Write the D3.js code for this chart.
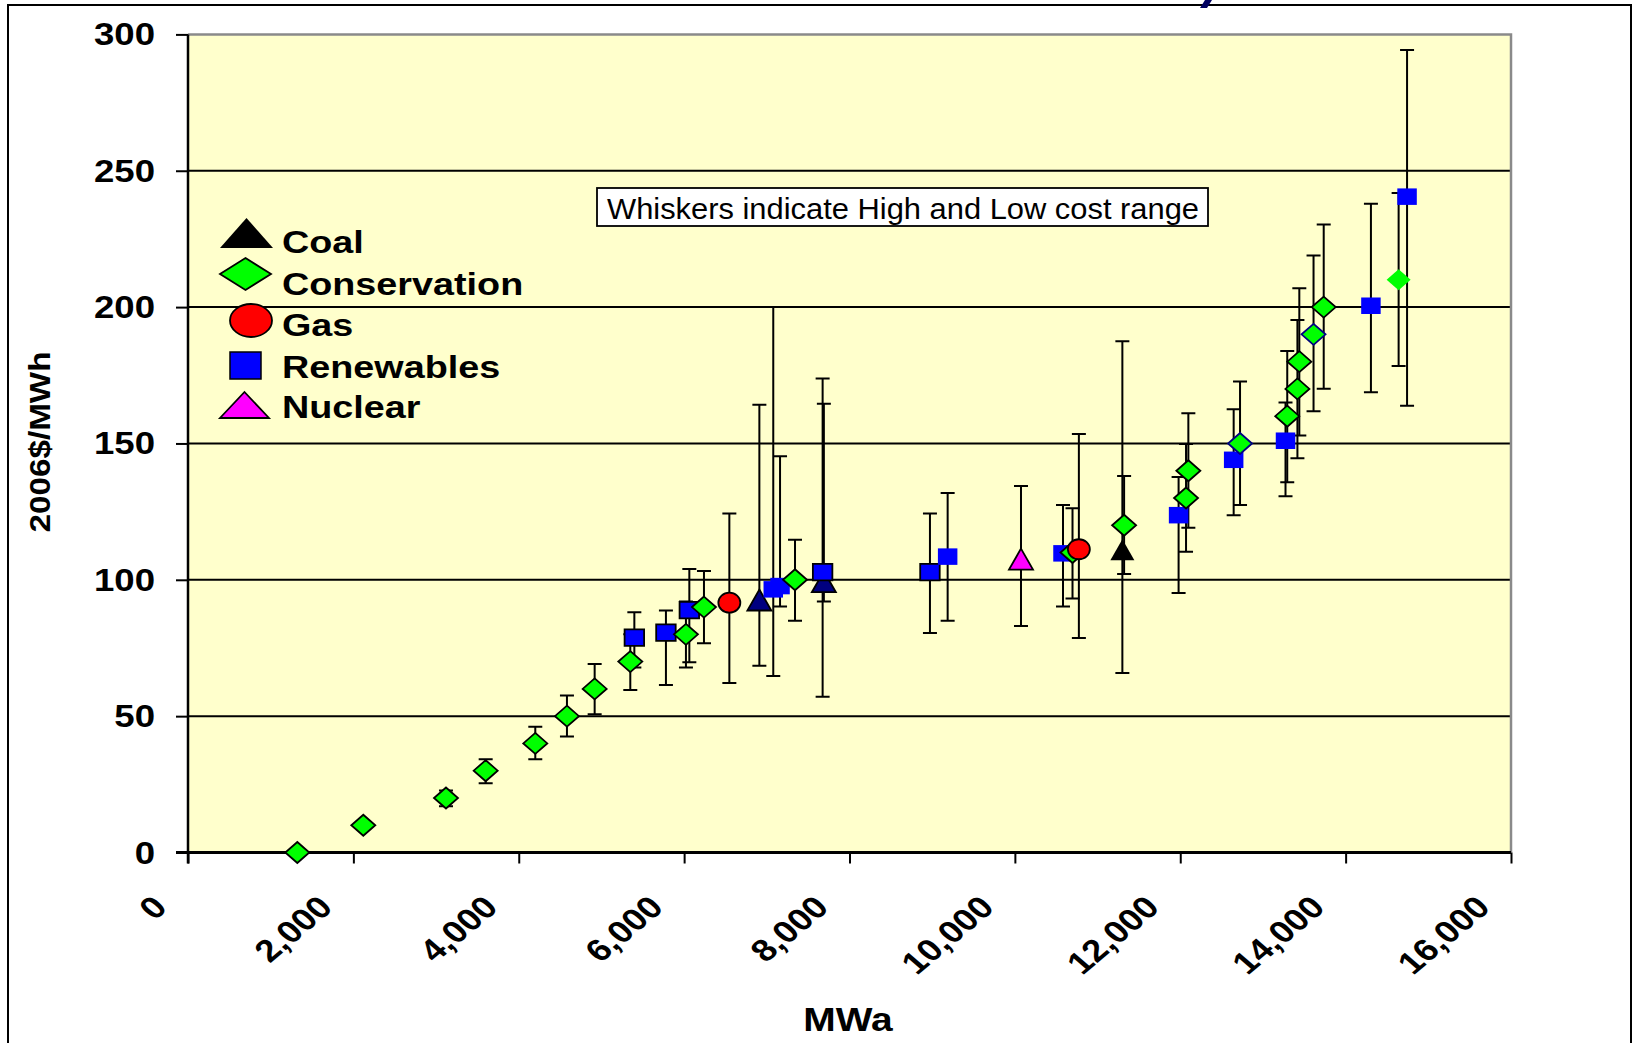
<!DOCTYPE html>
<html><head><meta charset="utf-8">
<script src="https://cdn.jsdelivr.net/npm/d3@7"></script>
<style>html,body{margin:0;padding:0;background:#fff;overflow:hidden}</style>
</head><body>
<svg id="chart" width="1636" height="1043"></svg>
<script>
// ---------------- DATA ----------------
const seriesNames = ["Coal", "Conservation", "Gas", "Renewables", "Nuclear"];
const xTickValues = [0, 2000, 4000, 6000, 8000, 10000, 12000, 14000, 16000];
const yTickValues = [0, 50, 100, 150, 200, 250, 300];
const xTitle = "MWa";
const yTitle = "2006$/MWh";
const noteText = "Whiskers indicate High and Low cost range";

const coalMWa  = [6910, 7690, 11300];
const coalCost = [92.6, 99.3, 111];
const coalLow  = [68.5, 92.0, 65.8];
const coalHigh = [164.2, 164.6, 187.5];

const consMWa  = [1322, 2120, 3120, 3600, 4200, 4583, 4918, 5349, 6022, 6240, 7341, 10697, 11321, 12070, 12098, 12723, 13294, 13417, 13440, 13612, 13735, 14641];
const consCost = [0, 10, 20, 30, 40, 50, 60, 70, 80, 90, 100, 110, 120, 130, 140, 150, 160, 170, 180, 190, 200, 210];
const consLow  = [null, null, 17.0, 25.4, 34.2, 42.5, 50.7, 59.6, 67.8, 76.7, 85.0, 93.1, 102.1, 110.3, 119.1, 127.4, 135.8, 144.6, 152.9, 161.8, 170.1, 178.4];
const consHigh = [null, null, 22.7, 34.2, 46.1, 57.6, 69.1, 80.0, 92.0, 103.2, 114.7, 126.2, 138.1, 149.8, 161.1, 172.7, 183.9, 195.3, 206.9, 218.9, 230.3, 241.8];

const gasMWa  = [6547, 10774];
const gasCost = [91.6, 111.2];
const gasLow  = [62.2, 78.7];
const gasHigh = [124.3, 153.5];

const renMWa  = [5398, 5780, 6063, 7078, 7160, 7675, 8973, 9187, 10582, 11980, 12646, 13273, 14306, 14743];
const renCost = [78.8, 80.6, 88.9, 96.5, 97.7, 102.8, 102.8, 108.5, 109.7, 123.7, 144.0, 151.0, 200.5, 240.5];
const renLow  = [67.8, 61.4, 69.8, 64.7, 90.2, 57.1, 80.5, 85.0, 90.2, 95.2, 123.7, 130.6, 168.8, 163.8];
const renHigh = [88.1, 88.7, 104.0, 200.0, 145.3, 173.8, 124.3, 131.8, 127.4, 137.7, 162.5, 165.0, 237.9, 294.3];

const nucMWa  = [10074];
const nucCost = [107.6];
const nucLow  = [83.1];
const nucHigh = [134.4];

// ---------------- STYLE ----------------
const FONT = "'Liberation Sans', Arial, Helvetica, sans-serif";
const SX = 1.18; // horizontal text stretch of the original picture
const markerStyle = {
  Coal:         {shape: "triangle", fill: "#000080", stroke: "#000"},
  Conservation: {shape: "diamond",  fill: "#00FF00", stroke: "#000"},
  Gas:          {shape: "circle",   fill: "#FF0000", stroke: "#000"},
  Renewables:   {shape: "square",   fill: "#0000FF", stroke: "#000"},
  Nuclear:      {shape: "triangle", fill: "#FF00FF", stroke: "#000"}
};
// per-point overrides (style only)
const overrides = {
  Coal: {2: {fill: "#000", stroke: "none"}},
  Conservation: {15: {stroke: "#000080"}, 19: {stroke: "#000080"}, 21: {stroke: "none"}},
  Renewables: {3: {stroke: "none"}, 4: {stroke: "none"}, 7: {stroke: "none"}, 8: {stroke: "none"},
               9: {stroke: "none"}, 10: {stroke: "none"}, 11: {stroke: "none"}, 12: {stroke: "none"}, 13: {stroke: "none"}}
};

const series = [
  {name: "Coal", x: coalMWa, y: coalCost, lo: coalLow, hi: coalHigh},
  {name: "Conservation", x: consMWa, y: consCost, lo: consLow, hi: consHigh},
  {name: "Gas", x: gasMWa, y: gasCost, lo: gasLow, hi: gasHigh},
  {name: "Renewables", x: renMWa, y: renCost, lo: renLow, hi: renHigh},
  {name: "Nuclear", x: nucMWa, y: nucCost, lo: nucLow, hi: nucHigh}
];
const drawOrder = ["Coal", "Renewables", "Conservation", "Gas", "Nuclear"];

// ---------------- LAYOUT ----------------
const svg = d3.select("#chart");
const P = {left: 188, right: 1511, top: 34.4, bottom: 852.5};
const x = d3.scaleLinear().domain([0, 16000]).range([P.left, P.right]);
const y = d3.scaleLinear().domain([0, 300]).range([P.bottom, P.top]);

// outer frame
svg.append("rect").attr("x", 8).attr("y", 5).attr("width", 1623).attr("height", 1100)
  .attr("fill", "#fff").attr("stroke", "#000").attr("stroke-width", 2);

// fragment of the (cropped-away) title glyph at the top edge
svg.append("path").attr("d", "M1205,0L1212,0L1207,8L1200,8Z").attr("fill", "#000060");

// plot background
svg.append("rect").attr("x", P.left).attr("y", P.top).attr("width", P.right - P.left).attr("height", P.bottom - P.top)
  .attr("fill", "#FFFFCC");

// gridlines
svg.append("g").selectAll("line").data(yTickValues.filter(v => v > 0 && v < 300)).join("line")
  .attr("x1", P.left).attr("x2", P.right).attr("y1", d => y(d)).attr("y2", d => y(d))
  .attr("stroke", "#000").attr("stroke-width", 2);

// plot border top/right (grey)
svg.append("path").attr("d", `M${P.left},${P.top}H${P.right}V${P.bottom}`)
  .attr("fill", "none").attr("stroke", "#8a8a8a").attr("stroke-width", 2.5);

// axes
const yAxis = d3.axisLeft(y).tickValues(yTickValues).tickSize(12).tickFormat("");
const gy = svg.append("g").attr("transform", `translate(${P.left},0)`).call(yAxis);
gy.select(".domain").attr("stroke", "#000").attr("stroke-width", 2.5).attr("d", `M0,${P.top}V${P.bottom + 11}`);
gy.selectAll(".tick line").attr("stroke", "#000").attr("stroke-width", 2);

const xAxis = d3.axisBottom(x).tickValues(xTickValues).tickSize(11).tickFormat("");
const gx = svg.append("g").attr("transform", `translate(0,${P.bottom})`).call(xAxis);
gx.select(".domain").attr("stroke", "#000").attr("stroke-width", 3).attr("d", `M${P.left - 12},0H${P.right}`);
gx.selectAll(".tick line").attr("stroke", "#000").attr("stroke-width", 2);

// y tick labels
const fmt = d3.format(",");
svg.append("g").selectAll("g").data(yTickValues).join("g")
  .attr("transform", d => `translate(155,${y(d) + 11}) scale(${SX},1)`)
  .append("text").attr("text-anchor", "end").attr("font-family", FONT).attr("font-weight", "bold")
  .attr("font-size", 31).attr("fill", "#000").text(d => fmt(d));

// x tick labels (rotated)
svg.append("g").selectAll("g").data(xTickValues).join("g")
  .attr("transform", d => `translate(${x(d) - 19},909) scale(${SX},1) rotate(-45)`)
  .append("text").attr("text-anchor", "end").attr("font-family", FONT).attr("font-weight", "bold")
  .attr("font-size", 31).attr("fill", "#000").text(d => fmt(d));

// axis titles
svg.append("g").attr("transform", `translate(848,1031) scale(${SX},1)`)
  .append("text").attr("text-anchor", "middle").attr("font-family", FONT).attr("font-weight", "bold")
  .attr("font-size", 33).text(xTitle);
svg.append("text").attr("transform", "translate(50,442) rotate(-90)").attr("text-anchor", "middle")
  .attr("font-family", FONT).attr("font-weight", "bold").attr("font-size", 30)
  .attr("textLength", 181).attr("lengthAdjust", "spacingAndGlyphs").text(yTitle);

// note box
svg.append("rect").attr("x", 597).attr("y", 188).attr("width", 611).attr("height", 38)
  .attr("fill", "#fff").attr("stroke", "#000").attr("stroke-width", 1.8);
svg.append("text").attr("x", 607).attr("y", 219).attr("font-family", FONT).attr("font-size", 30)
  .attr("textLength", 592).attr("lengthAdjust", "spacingAndGlyphs").text(noteText);

// shapes
function shapePath(shape, w, h) {
  const a = w / 2, b = h / 2;
  if (shape === "diamond") return `M0,${-b}L${a},0L0,${b}L${-a},0Z`;
  if (shape === "square") return `M${-a},${-b}H${a}V${b}H${-a}Z`;
  if (shape === "triangle") return `M0,${-b}L${a},${b}L${-a},${b}Z`;
  return null;
}
const markerSize = {diamond: [24, 21], square: [19.5, 16.5], triangle: [24, 21], circle: [22, 20]};

// whiskers
const capHalf = 7;
const wg = svg.append("g");
series.forEach(s => {
  const pts = s.x.map((xv, i) => ({x: xv, lo: s.lo[i], hi: s.hi[i]})).filter(d => d.lo != null);
  const g = wg.append("g");
  g.selectAll("path").data(pts).join("path")
    .attr("d", d => {
      const px = x(d.x), yl = y(d.lo), yh = y(d.hi);
      return `M${px},${yl}V${yh}M${px - capHalf},${yh}H${px + capHalf}M${px - capHalf},${yl}H${px + capHalf}`;
    })
    .attr("fill", "none").attr("stroke", "#000").attr("stroke-width", 2);
});

// markers
const mg = svg.append("g");
drawOrder.forEach(name => {
  const s = series.find(t => t.name === name);
  const st = markerStyle[name];
  const ov = overrides[name] || {};
  const pts = s.x.map((xv, i) => ({x: xv, y: s.y[i], i}));
  const g = mg.append("g");
  const [w, h] = markerSize[st.shape];
  if (st.shape === "circle") {
    g.selectAll("ellipse").data(pts).join("ellipse")
      .attr("cx", d => x(d.x)).attr("cy", d => y(d.y)).attr("rx", w / 2).attr("ry", h / 2)
      .attr("fill", d => (ov[d.i] && ov[d.i].fill) || st.fill)
      .attr("stroke", d => (ov[d.i] && ov[d.i].stroke) || st.stroke).attr("stroke-width", 1.8);
  } else {
    g.selectAll("path").data(pts).join("path")
      .attr("transform", d => `translate(${x(d.x)},${y(d.y)})`)
      .attr("d", shapePath(st.shape, w, h))
      .attr("fill", d => (ov[d.i] && ov[d.i].fill) || st.fill)
      .attr("stroke", d => (ov[d.i] && ov[d.i].stroke) || st.stroke).attr("stroke-width", 1.8);
  }
});

// legend
const lg = svg.append("g");
lg.append("path").attr("d", "M246.5,218L273,248L220,248Z").attr("fill", "#000");
lg.append("path").attr("d", "M245.5,258L271,274L245.5,290L220,274Z").attr("fill", "#00FF00").attr("stroke", "#000").attr("stroke-width", 1.8);
lg.append("ellipse").attr("cx", 251).attr("cy", 320.5).attr("rx", 21).attr("ry", 16.5).attr("fill", "#FF0000").attr("stroke", "#000").attr("stroke-width", 1.8);
lg.append("rect").attr("x", 230).attr("y", 352).attr("width", 31).attr("height", 27).attr("fill", "#0000FF").attr("stroke", "#000").attr("stroke-width", 1.5);
lg.append("path").attr("d", "M244.5,392L269,418L220,418Z").attr("fill", "#FF00FF").attr("stroke", "#000").attr("stroke-width", 1.8);
const legendBaselines = [253, 295, 336, 377.5, 418];
lg.selectAll("g.lt").data(seriesNames).join("g").attr("class", "lt")
  .attr("transform", (d, i) => `translate(282,${legendBaselines[i]}) scale(${SX},1)`)
  .append("text").attr("font-family", FONT).attr("font-weight", "bold").attr("font-size", 32).text(d => d);
</script>
</body></html>
